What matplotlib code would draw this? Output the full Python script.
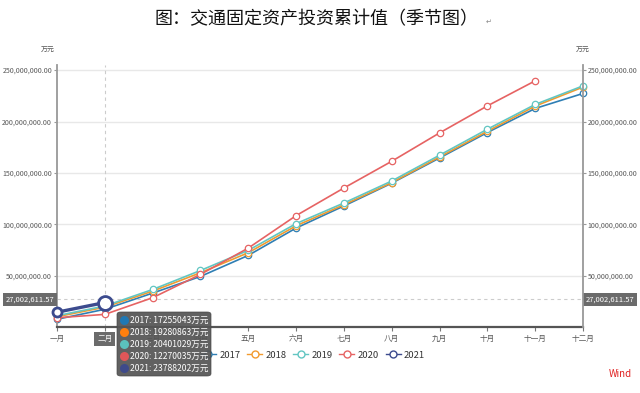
import matplotlib
matplotlib.use("Agg")
import matplotlib.pyplot as plt
from matplotlib.lines import Line2D
from matplotlib.patches import FancyBboxPatch
import matplotlib.ticker as mticker
import matplotlib.transforms as mtrans

plt.rcParams['font.family'] = ['Noto Sans CJK SC', 'DejaVu Sans']

MONTHS = ["一月", "二月", "三月", "四月", "五月", "六月",
          "七月", "八月", "九月", "十月", "十一月", "十二月"]
YEARS = ["2017", "2018", "2019", "2020", "2021"]

# cumulative investment, 万元 (Feb values from tooltip)
V2017 = [7.5e6, 17255043, 33.0e6, 49.2e6, 69.7e6, 96.3e6,
         117.8e6, 140.0e6, 164.5e6, 189.3e6, 212.7e6, 227.3e6]
V2018 = [10.0e6, 19280863, 34.9e6, 52.8e6, 72.3e6, 98.5e6,
         119.0e6, 140.5e6, 165.5e6, 190.5e6, 215.0e6, 233.5e6]
V2019 = [11.0e6, 20401029, 36.5e6, 55.0e6, 74.6e6, 100.6e6,
         120.7e6, 142.1e6, 167.2e6, 192.5e6, 216.6e6, 234.7e6]
V2020 = [9.0e6, 12270035, 28.5e6, 51.2e6, 76.8e6, 108.4e6,
         135.3e6, 161.3e6, 188.9e6, 215.2e6, 239.6e6]
V2021 = [14.4e6, 23788202]

SERIES = [V2017, V2018, V2019, V2020, V2021]
COLORS = ["#2f7fb4", "#f29a2e", "#62c6c2", "#e66363", "#3c4b8e"]
DOT_COLORS = ["#1f78b4", "#ff7f0e", "#5bc2bd", "#e15759", "#3e4a8a"]

CURSOR_Y = 27002611.57
HOVER = 1  # 二月

fig = plt.figure(figsize=(6.4, 3.93), dpi=100)
ax = fig.add_axes([57 / 640, 66 / 393, 526 / 640, 262 / 393])
x = list(range(len(MONTHS)))

for i, (vals, col) in enumerate(zip(SERIES, COLORS)):
    xs = x[:len(vals)]
    if YEARS[i] == "2021":
        ax.plot(xs, vals, color=col, lw=2.4, marker="o", ms=6.5,
                mfc="white", mew=2.0, zorder=6, clip_on=False)
        ax.plot(xs[HOVER], vals[HOVER], color=col, marker="o", ms=10,
                mfc="white", mew=2.0, zorder=7, clip_on=False)
    else:
        ax.plot(xs, vals, color=col, lw=1.2, marker="o", ms=4.6,
                mfc="white", mew=0.9, zorder=2 + i, clip_on=False)

ax.set_xlim(0, len(MONTHS) - 1)
ax.set_ylim(0, 255e6)
yt = [50e6, 100e6, 150e6, 200e6, 250e6]
ax.set_yticks(yt)
fmt = mticker.FuncFormatter(lambda v, p: f"{v:,.2f}")
ax.yaxis.set_major_formatter(fmt)
ax.set_xticks(x)
ax.set_xticklabels(MONTHS)
ax.yaxis.grid(True, color="#e8e8e8", lw=1.0)
ax.set_axisbelow(True)

for s in ["top", "right"]:
    ax.spines[s].set_visible(False)
ax.spines["left"].set_color("#999999")
ax.spines["left"].set_linewidth(1.3)
ax.spines["bottom"].set_color("#555555")
ax.spines["bottom"].set_linewidth(1.6)
ax.tick_params(axis="y", length=2.5, color="#999999", labelsize=5.1,
               labelcolor="#555555", pad=1)
ax.tick_params(axis="x", length=3, color="#777777", labelsize=5.5,
               labelcolor="#555555", pad=3)

ax2 = ax.twinx()
ax2.set_ylim(ax.get_ylim())
ax2.set_yticks(yt)
ax2.yaxis.set_major_formatter(fmt)
for s in ["top", "left", "bottom"]:
    ax2.spines[s].set_visible(False)
ax2.spines["right"].set_color("#999999")
ax2.spines["right"].set_linewidth(1.3)
ax2.tick_params(axis="y", length=2.5, color="#999999", labelsize=5.1,
                labelcolor="#555555", pad=1)

# crosshair
ax.axvline(x[HOVER], color="#cccccc", ls=(0, (3, 3)), lw=0.8, zorder=1)
ax.axhline(CURSOR_Y, color="#cccccc", ls=(0, (3, 3)), lw=0.8, zorder=1)
box = dict(boxstyle="square,pad=0.35", fc="#6b6b6b", ec="none")
blend = mtrans.blended_transform_factory(ax.transAxes, ax.transData)
ax.text(-0.006, CURSOR_Y, f"{CURSOR_Y:,.2f}", transform=blend, ha="right",
        va="center", fontsize=5.5, color="white", bbox=box, zorder=10)
ax.text(1.006, CURSOR_Y, f"{CURSOR_Y:,.2f}", transform=blend, ha="left",
        va="center", fontsize=5.5, color="white", bbox=box, zorder=10)
lab = ax.get_xticklabels()[HOVER]
lab.set_color("white")
lab.set_bbox(dict(boxstyle="square,pad=0.4", fc="#6b6b6b", ec="none"))

# units
fig.text(48 / 640, 1 - 50 / 393, "万元", fontsize=5, color="#555555",
         ha="center", va="center")
fig.text(583 / 640, 1 - 50 / 393, "万元", fontsize=5, color="#555555",
         ha="center", va="center")

# title
fig.text(317 / 640, 1 - 19 / 393, "图：交通固定资产投资累计值（季节图）",
         fontsize=13, ha="center", va="center", color="#111111")
fig.text(489 / 640, 1 - 22 / 393, "↵", fontsize=5, ha="center",
         va="center", color="#888888")

# legend
handles = [Line2D([], [], color=c, lw=1.0, marker="o", ms=5, mfc="white",
                  mew=1.0) for c in COLORS]
leg = fig.legend(handles, YEARS, ncol=5, loc="center",
                 bbox_to_anchor=(313 / 640, 1 - 355 / 393), frameon=False,
                 fontsize=6.8, handlelength=1.6, handletextpad=0.35,
                 columnspacing=0.7, borderpad=0)
for t in leg.get_texts():
    t.set_color("#333333")

# tooltip
tip = FancyBboxPatch((117 / 640, 1 - 376 / 393), 94 / 640, 64 / 393,
                     boxstyle="round,pad=0,rounding_size=0.006",
                     transform=fig.transFigure, fc="#555555", ec="#444444",
                     lw=0.5, alpha=0.93, zorder=20)
fig.add_artist(tip)
rows_y = [320, 332, 344, 356, 368]
for yr, vals, dc, ry in zip(YEARS, SERIES, DOT_COLORS, rows_y):
    fig.add_artist(Line2D([124 / 640], [1 - ry / 393], marker="o", ms=6.5,
                          color=dc, mec="none", transform=fig.transFigure,
                          zorder=21))
    fig.text(130 / 640, 1 - ry / 393, f"{yr}: {int(vals[HOVER])}万元",
             fontsize=6.2, color="white", va="center", zorder=22)

fig.text(632 / 640, 1 - 374 / 393, "Wind", fontsize=7, color="#e02020",
         ha="right", va="center")

fig.savefig("out.png", dpi=100)
